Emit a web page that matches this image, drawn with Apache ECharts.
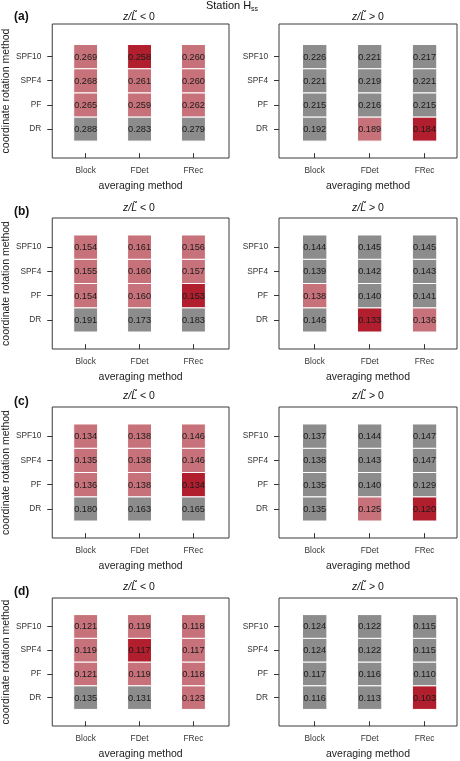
<!DOCTYPE html>
<html><head><meta charset="utf-8">
<script src="https://cdn.jsdelivr.net/npm/echarts@6/dist/echarts.min.js"></script>
<style>html,body{margin:0;padding:0;background:#fff}#c{width:460px;height:761px}</style>
</head><body><div id="c"></div>
<script>
// ---- data ----
const methods = ['Block', 'FDet', 'FRec'];            // x categories
const rotations = ['DR', 'PF', 'SPF4', 'SPF10'];       // y categories (bottom -> top)
const panelLetters = ['(a)', '(b)', '(c)', '(d)'];
const stabilityTitles = ['< 0', '> 0'];
// values: rows DR, PF, SPF4, SPF10 ; cols Block, FDet, FRec
// mark: 0 = not better, 1 = better than reference, 2 = best
const aNeg = [[0.288,0.283,0.279],[0.265,0.259,0.262],[0.268,0.261,0.260],[0.269,0.258,0.260]];
const aNegMark = [[0,0,0],[1,1,1],[1,1,1],[1,2,1]];
const aPos = [[0.192,0.189,0.184],[0.215,0.216,0.215],[0.221,0.219,0.221],[0.226,0.221,0.217]];
const aPosMark = [[0,1,2],[0,0,0],[0,0,0],[0,0,0]];
const bNeg = [[0.191,0.173,0.183],[0.154,0.160,0.153],[0.155,0.160,0.157],[0.154,0.161,0.156]];
const bNegMark = [[0,0,0],[1,1,2],[1,1,1],[1,1,1]];
const bPos = [[0.146,0.133,0.136],[0.138,0.140,0.141],[0.139,0.142,0.143],[0.144,0.145,0.145]];
const bPosMark = [[0,2,1],[1,0,0],[0,0,0],[0,0,0]];
const cNeg = [[0.180,0.163,0.165],[0.136,0.138,0.134],[0.135,0.138,0.146],[0.134,0.138,0.146]];
const cNegMark = [[0,0,0],[1,1,2],[1,1,1],[1,1,1]];
const cPos = [[0.135,0.125,0.120],[0.135,0.140,0.129],[0.138,0.143,0.147],[0.137,0.144,0.147]];
const cPosMark = [[0,1,2],[0,0,0],[0,0,0],[0,0,0]];
const dNeg = [[0.135,0.131,0.123],[0.121,0.119,0.118],[0.119,0.117,0.117],[0.121,0.119,0.118]];
const dNegMark = [[0,0,1],[1,1,1],[1,2,1],[1,1,1]];
const dPos = [[0.116,0.113,0.103],[0.117,0.116,0.110],[0.124,0.122,0.115],[0.124,0.122,0.115]];
const dPosMark = [[0,0,2],[0,0,0],[0,0,0],[0,0,0]];

const panels = [
  [[aNeg, aNegMark], [aPos, aPosMark]],
  [[bNeg, bNegMark], [bPos, bPosMark]],
  [[cNeg, cNegMark], [cPos, cPosMark]],
  [[dNeg, dNegMark], [dPos, dPosMark]]
];

// ---- layout / style ----
const FONT = '"Liberation Sans", Arial, sans-serif';
const palette = ['#8c8c8c', '#c7727a', '#b11f2e'];
const colLayout = [
  {left: 49, width: 180, xMin: 0.38, xMax: 3.66},
  {left: 279, width: 178, xMin: 0.35, xMax: 3.59}
];
const rowLayout = [
  {top: 24, height: 134, yMin: -0.2, yMax: 5.35, titleY: 17, letterY: 18},
  {top: 218, height: 131, yMin: -0.2, yMax: 5.2, titleY: 208, letterY: 213},
  {top: 407, height: 131, yMin: -0.2, yMax: 5.2, titleY: 396, letterY: 403},
  {top: 598, height: 130, yMin: -0.2, yMax: 5.2, titleY: 587, letterY: 593}
];

function renderItem(params, api) {
  const x = api.value(0), y = api.value(1);
  const p1 = api.coord([x - 0.222, y + 0.5]);
  const p2 = api.coord([x + 0.222, y - 0.5]);
  const c = api.coord([x, y]);
  return {
    type: 'group',
    children: [
      {type: 'rect', shape: {x: p1[0], y: p1[1], width: p2[0] - p1[0], height: p2[1] - p1[1]},
       style: {fill: palette[api.value(3)], stroke: '#ffffff', lineWidth: 1}},
      {type: 'text', x: c[0], y: c[1] + 0.5,
       style: {text: api.value(2).toFixed(3), fill: '#1a1a1a', font: '9.2px ' + FONT, align: 'center', verticalAlign: 'middle'}}
    ]
  };
}

const grid = [], xAxis = [], yAxis = [], series = [], graphic = [];
panels.forEach((row, r) => {
  const rl = rowLayout[r];
  graphic.push({type: 'text', left: 14, top: rl.letterY - 7,
    style: {text: panelLetters[r], font: 'bold 12px ' + FONT, fill: '#111'}});
  row.forEach((pair, cI) => {
    const cl = colLayout[cI];
    const idx = grid.length;
    grid.push({left: cl.left, top: rl.top, width: cl.width, height: rl.height,
      show: true, borderColor: '#3a3a3a', borderWidth: 1, backgroundColor: '#fff'});
    xAxis.push({type: 'value', gridIndex: idx, min: cl.xMin, max: cl.xMax,
      axisLine: {show: false}, splitLine: {show: false},
      axisTick: {show: true, length: 5, lineStyle: {color: '#333'}, customValues: [1, 2, 3]},
      axisLabel: {customValues: [1, 2, 3], margin: 9, fontSize: 8.3, fontFamily: FONT, color: '#333',
        formatter: v => methods[Math.round(v) - 1] || ''},
      name: 'averaging method', nameLocation: 'middle', nameGap: 23,
      nameTextStyle: {fontSize: 10.5, fontFamily: FONT, color: '#222'}});
    yAxis.push({type: 'value', gridIndex: idx, min: rl.yMin, max: rl.yMax,
      axisLine: {show: false}, splitLine: {show: false},
      axisTick: {show: true, length: 5, lineStyle: {color: '#333'}, customValues: [1, 2, 3, 4]},
      axisLabel: {customValues: [1, 2, 3, 4], margin: 11, fontSize: 8.3, fontFamily: FONT, color: '#333',
        formatter: v => rotations[Math.round(v) - 1] || ''},
      name: cI === 0 ? 'coordinate rotation method' : '', nameLocation: 'middle', nameGap: 35,
      nameTextStyle: {fontSize: 10.5, fontFamily: FONT, color: '#222'}});
    const data = [];
    pair[0].forEach((vals, ri) => vals.forEach((v, ci) => data.push([ci + 1, ri + 1, v, pair[1][ri][ci]])));
    series.push({type: 'custom', xAxisIndex: idx, yAxisIndex: idx, renderItem: renderItem,
      data: data, encode: {x: 0, y: 1}, silent: true, clip: false});
    graphic.push({type: 'text', x: cl.left + cl.width / 2, y: rl.titleY,
      style: {text: '{i|z/L\u0303} ' + stabilityTitles[cI], font: '10.5px ' + FONT, fill: '#111',
        align: 'center', verticalAlign: 'middle',
        rich: {i: {fontStyle: 'italic', fontSize: 10.5, fontFamily: FONT}}}});
  });
});
graphic.push({type: 'text', x: 232, y: 6,
  style: {text: 'Station H{s|ss}', font: '11px ' + FONT, fill: '#111', align: 'center', verticalAlign: 'middle',
    rich: {s: {fontSize: 7, fontFamily: FONT, padding: [6, 0, 0, 0]}}}});

const chart = echarts.init(document.getElementById('c'), null, {renderer: 'canvas'});
chart.setOption({animation: false, backgroundColor: '#fff', grid, xAxis, yAxis, series, graphic});
</script></body></html>
